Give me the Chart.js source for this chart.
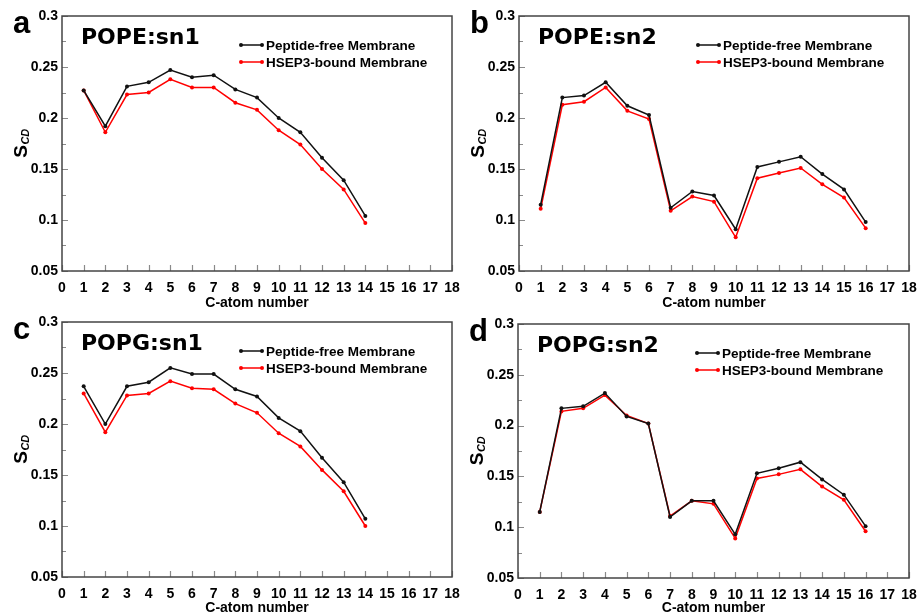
<!DOCTYPE html>
<html>
<head>
<meta charset="utf-8">
<script src="https://cdn.jsdelivr.net/npm/chart.js@4.4.1/dist/chart.umd.min.js"></script>
<style>
  html, body { margin: 0; padding: 0; background: #fff; }
  body { width: 919px; height: 615px; position: relative; overflow: hidden; }
  .panel { position: absolute; }
</style>
</head>
<body>
<div class="panel" style="left:0;top:0;width:460px;height:310px"><canvas id="chart-a"></canvas></div>
<div class="panel" style="left:455px;top:0;width:464px;height:310px"><canvas id="chart-b"></canvas></div>
<div class="panel" style="left:0;top:305px;width:460px;height:310px"><canvas id="chart-c"></canvas></div>
<div class="panel" style="left:455px;top:305px;width:464px;height:310px"><canvas id="chart-d"></canvas></div>
<script>
// carbon positions along the acyl chains
const carbonsSn1 = [1, 2, 3, 4, 5, 6, 7, 8, 9, 10, 11, 12, 13, 14];
const carbonsSn2 = [1, 2, 3, 4, 5, 6, 7, 8, 9, 10, 11, 12, 13, 14, 15, 16];

// order parameters S_CD
const popeSn1Free  = [0.227, 0.192, 0.231, 0.235, 0.247, 0.240, 0.242, 0.228, 0.220, 0.200, 0.186, 0.161, 0.139, 0.104];
const popeSn1Bound = [0.227, 0.186, 0.223, 0.225, 0.238, 0.230, 0.230, 0.215, 0.208, 0.188, 0.174, 0.150, 0.130, 0.097];

const popeSn2Free  = [0.115, 0.220, 0.222, 0.235, 0.212, 0.203, 0.112, 0.128, 0.124, 0.091, 0.152, 0.157, 0.162, 0.145, 0.130, 0.098];
const popeSn2Bound = [0.111, 0.213, 0.216, 0.230, 0.207, 0.199, 0.109, 0.123, 0.118, 0.083, 0.141, 0.146, 0.151, 0.135, 0.122, 0.092];

const popgSn1Free  = [0.237, 0.200, 0.237, 0.241, 0.255, 0.249, 0.249, 0.234, 0.227, 0.206, 0.193, 0.167, 0.143, 0.107];
const popgSn1Bound = [0.230, 0.192, 0.228, 0.230, 0.242, 0.235, 0.234, 0.220, 0.211, 0.191, 0.178, 0.155, 0.134, 0.100];

const popgSn2Free  = [0.115, 0.217, 0.219, 0.232, 0.209, 0.202, 0.110, 0.126, 0.126, 0.093, 0.153, 0.158, 0.164, 0.147, 0.132, 0.101];
const popgSn2Bound = [0.115, 0.214, 0.217, 0.230, 0.210, 0.202, 0.111, 0.126, 0.123, 0.089, 0.148, 0.152, 0.157, 0.140, 0.127, 0.096];

const xTicks = [0, 1, 2, 3, 4, 5, 6, 7, 8, 9, 10, 11, 12, 13, 14, 15, 16, 17, 18];
const yTicks = [0.05, 0.1, 0.15, 0.2, 0.25, 0.3];

const seriesLabels = ['Peptide-free Membrane', 'HSEP3-bound Membrane'];
const seriesColors = ['#111111', '#ff0000'];

const LABEL_FONT = '"Liberation Sans", Arial, sans-serif';

function toPoints(xs, ys) {
  return xs.map((x, i) => ({ x, y: ys[i] }));
}

// frame, inward ticks, title, panel letter, S_CD label and legend
const decorPlugin = {
  id: 'decor',
  afterDraw(chart, args, opts) {
    const ctx = chart.ctx;
    const area = chart.chartArea;
    const xs = chart.scales.x;
    const ys = chart.scales.y;
    ctx.save();

    // inward tick marks
    ctx.strokeStyle = '#8a8a8a';
    ctx.lineWidth = 1.2;
    ctx.beginPath();
    xTicks.forEach(v => {
      const px = Math.round(xs.getPixelForValue(v)) + 0.5;
      ctx.moveTo(px, area.bottom);
      ctx.lineTo(px, area.bottom - 6);
    });
    yTicks.forEach((v, i) => {
      const py = Math.round(ys.getPixelForValue(v)) + 0.5;
      ctx.moveTo(area.left, py);
      ctx.lineTo(area.left + 6, py);
      if (i > 0) {
        const pm = Math.round(ys.getPixelForValue((v + yTicks[i - 1]) / 2)) + 0.5;
        ctx.moveTo(area.left, pm);
        ctx.lineTo(area.left + 4, pm);
      }
    });
    ctx.stroke();

    // frame
    ctx.strokeStyle = '#444';
    ctx.lineWidth = 1.5;
    ctx.strokeRect(area.left, area.top, area.right - area.left, area.bottom - area.top);

    // panel title
    ctx.fillStyle = '#000';
    ctx.textAlign = 'left';
    ctx.textBaseline = 'alphabetic';
    ctx.font = 'bold 22px "DejaVu Sans", sans-serif';
    ctx.fillText(opts.title, area.left + 19, area.top + 28);

    // panel letter
    ctx.font = 'bold 31px ' + LABEL_FONT;
    ctx.fillText(opts.letter, area.left - 49, area.top + 17);

    // y axis label S_CD
    ctx.save();
    ctx.translate(area.left - 35, (area.top + area.bottom) / 2);
    ctx.rotate(-Math.PI / 2);
    ctx.font = 'bold 19px ' + LABEL_FONT;
    const wS = ctx.measureText('S').width;
    ctx.font = 'italic bold 11px ' + LABEL_FONT;
    const wCD = ctx.measureText('CD').width;
    const x0 = -(wS + wCD) / 2;
    ctx.font = 'bold 19px ' + LABEL_FONT;
    ctx.fillText('S', x0, 0);
    ctx.font = 'italic bold 11px ' + LABEL_FONT;
    ctx.fillText('CD', x0 + wS + 0.5, 1.5);
    ctx.restore();

    // legend
    ctx.font = 'bold 13.5px ' + LABEL_FONT;
    ctx.textBaseline = 'middle';
    chart.data.datasets.forEach((ds, i) => {
      const y = area.top + 29 + i * 17;
      const lx0 = area.left + 179;
      const lx1 = area.left + 200;
      ctx.strokeStyle = ds.borderColor;
      ctx.fillStyle = ds.borderColor;
      ctx.lineWidth = 1.5;
      ctx.beginPath();
      ctx.moveTo(lx0, y);
      ctx.lineTo(lx1, y);
      ctx.stroke();
      [lx0, lx1].forEach(px => {
        ctx.beginPath();
        ctx.arc(px, y, 2, 0, Math.PI * 2);
        ctx.fill();
      });
      ctx.fillStyle = '#000';
      ctx.fillText(ds.label, area.left + 204, y + 1);
    });

    ctx.restore();
  }
};

function makeChart(id, cfg) {
  const ctx = document.getElementById(id).getContext('2d');
  return new Chart(ctx, {
    type: 'line',
    data: {
      datasets: [
        {
          label: seriesLabels[0],
          data: toPoints(cfg.xs, cfg.free),
          borderColor: seriesColors[0],
          backgroundColor: seriesColors[0],
          borderWidth: 1.5,
          pointRadius: 2,
          pointBorderWidth: 0,
          tension: 0
        },
        {
          label: seriesLabels[1],
          data: toPoints(cfg.xs, cfg.bound),
          borderColor: seriesColors[1],
          backgroundColor: seriesColors[1],
          borderWidth: 1.5,
          pointRadius: 2,
          pointBorderWidth: 0,
          tension: 0
        }
      ]
    },
    options: {
      responsive: true,
      maintainAspectRatio: false,
      animation: false,
      layout: { padding: { top: cfg.top, right: cfg.right, left: 0, bottom: 0 } },
      plugins: {
        legend: { display: false },
        tooltip: { enabled: false },
        decor: { title: cfg.title, letter: cfg.letter }
      },
      scales: {
        x: {
          type: 'linear',
          min: 0,
          max: 18,
          afterBuildTicks: scale => { scale.ticks = xTicks.map(v => ({ value: v })); },
          afterFit: scale => {
            scale.height = cfg.xHeight;
            scale.paddingLeft = 0;
            scale.paddingRight = 0;
          },
          grid: { display: false, drawTicks: false },
          border: { display: false },
          ticks: {
            padding: 9,
            color: '#000',
            maxRotation: 0,
            autoSkip: false,
            font: { family: LABEL_FONT, weight: 'bold', size: 14 }
          },
          title: {
            display: true,
            text: 'C-atom number',
            color: '#000',
            padding: { top: 0, bottom: -2 },
            font: { family: LABEL_FONT, weight: 'bold', size: 14 }
          }
        },
        y: {
          min: 0.05,
          max: 0.3,
          afterBuildTicks: scale => { scale.ticks = yTicks.map(v => ({ value: v })); },
          afterFit: scale => { scale.width = cfg.yWidth; },
          grid: { display: false, drawTicks: false },
          border: { display: false },
          ticks: {
            padding: 4,
            color: '#000',
            font: { family: LABEL_FONT, weight: 'bold', size: 14 },
            callback: v => String(Number(v.toFixed(2)))
          }
        }
      }
    },
    plugins: [decorPlugin]
  });
}

makeChart('chart-a', { xs: carbonsSn1, free: popeSn1Free, bound: popeSn1Bound, title: 'POPE:sn1', letter: 'a',
  top: 16, right: 8, xHeight: 39, yWidth: 62 });
makeChart('chart-b', { xs: carbonsSn2, free: popeSn2Free, bound: popeSn2Bound, title: 'POPE:sn2', letter: 'b',
  top: 16, right: 10, xHeight: 39, yWidth: 64 });
makeChart('chart-c', { xs: carbonsSn1, free: popgSn1Free, bound: popgSn1Bound, title: 'POPG:sn1', letter: 'c',
  top: 17, right: 8, xHeight: 38, yWidth: 62 });
makeChart('chart-d', { xs: carbonsSn2, free: popgSn2Free, bound: popgSn2Bound, title: 'POPG:sn2', letter: 'd',
  top: 19, right: 10, xHeight: 37, yWidth: 63 });
</script>
</body>
</html>
